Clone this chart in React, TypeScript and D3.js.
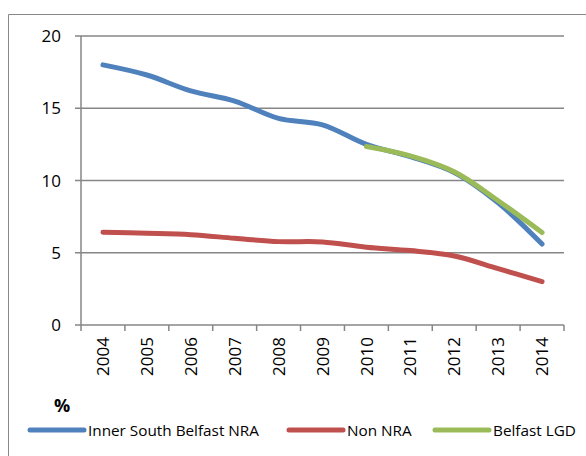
import React from "react";
import * as d3 from "d3";

const years = ["2004","2005","2006","2007","2008","2009","2010","2011","2012","2013","2014"];
const innerSouth = [18.0, 17.3, 16.2, 15.5, 14.3, 13.85, 12.5, 11.65, 10.55, 8.45, 5.6];
const nonNRA = [6.42, 6.35, 6.25, 6.0, 5.77, 5.75, 5.38, 5.15, 4.78, 3.9, 3.0];
const belfastLGD: (number | null)[] = [null, null, null, null, null, null, 12.35, 11.7, 10.6, 8.6, 6.4];
const yTicks = [0, 5, 10, 15, 20];

const FONT = "'Open Sans', sans-serif";

export default function App() {
  const W = 586, H = 456;
  const left = 81, right = 564, top = 36, bottom = 325;
  const x = d3.scaleBand().domain(years).range([left, right]);
  const y = d3.scaleLinear().domain([0, 20]).range([bottom, top]);
  const cx = (yr: string) => (x(yr) as number) + x.bandwidth() / 2;
  const line = d3.line<number | null>()
    .defined(d => d !== null)
    .x((_, i) => cx(years[i]))
    .y(d => y(d as number))
    .curve(d3.curveCatmullRom.alpha(0.5));

  const series = [
    { name: "Inner South Belfast NRA", data: innerSouth, color: "#4F81BD" },
    { name: "Non NRA", data: nonNRA, color: "#C0504D" },
    { name: "Belfast LGD", data: belfastLGD, color: "#9BBB59" },
  ];
  const legendX = [30, 289, 435];

  return (
    <svg width={W} height={H} style={{ position: "absolute", left: 0, top: 0 }}>
      <rect x={0} y={0} width={W} height={H} fill="#fff" />
      <path d={`M8.5,${H + 5} V14.5 H${W + 5}`} fill="none" stroke="#888" strokeWidth={1} />
      {yTicks.map(t => (
        <g key={t}>
          <line x1={75} x2={right} y1={y(t)} y2={y(t)} stroke="#868686" strokeWidth={1.5} />
          <text x={61} y={y(t)} dy="0.36em" textAnchor="end" fontFamily={FONT} fontSize={17} fill="#000">{t}</text>
        </g>
      ))}
      <line x1={left} x2={left} y1={top} y2={bottom + 6} stroke="#868686" strokeWidth={1.5} />
      {years.map((yr) => (
        <line key={"t" + yr} x1={(x(yr) as number) + x.bandwidth()} x2={(x(yr) as number) + x.bandwidth()} y1={bottom} y2={bottom + 6} stroke="#868686" strokeWidth={1.5} />
      ))}
      {years.map(yr => (
        <text key={yr} transform={`translate(${cx(yr)},337) rotate(-90)`} dy="0.36em" textAnchor="end" fontFamily={FONT} fontSize={17} fill="#000">{yr}</text>
      ))}
      {series.map(s => (
        <path key={s.name} d={line(s.data) || ""} fill="none" stroke={s.color} strokeWidth={5} strokeLinecap="round" strokeLinejoin="round" />
      ))}
      <text x={54} y={412} fontFamily={FONT} fontSize={18} fontWeight="bold" fill="#000">%</text>
      {series.map((s, i) => (
        <g key={"l" + s.name}>
          <line x1={legendX[i]} x2={legendX[i] + 54} y1={430} y2={430} stroke={s.color} strokeWidth={5} strokeLinecap="round" />
          <text x={legendX[i] + 58} y={430} dy="0.36em" fontFamily={FONT} fontSize={15.3} fill="#000">{s.name}</text>
        </g>
      ))}
    </svg>
  );
}
